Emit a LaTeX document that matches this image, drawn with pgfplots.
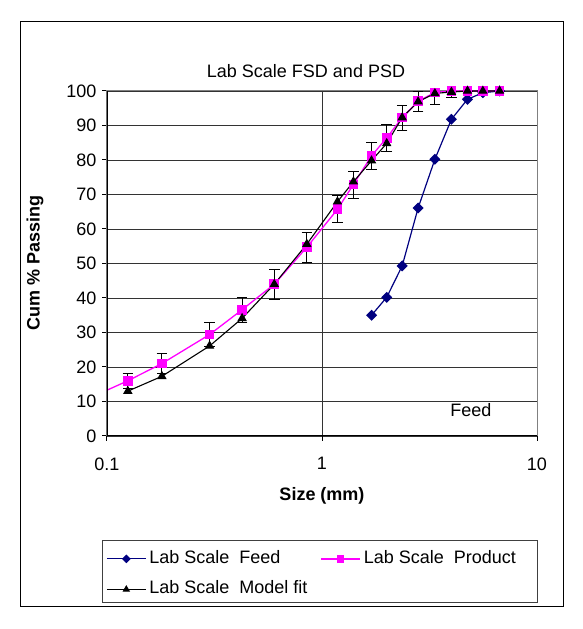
\documentclass[border=0pt]{standalone}
\usepackage{fontspec}
\setmainfont{Liberation Sans}
\usepackage{pgfplots}
\usepackage{pgfplotstable}
\pgfplotsset{compat=1.18}
\definecolor{feedblue}{HTML}{000080}
\definecolor{prodmag}{HTML}{FF00FF}
\newcommand\fs{\fontsize{18}{21.6}\selectfont}

\pgfplotstableread{
x y
1.7 35.0
2.0 40.2
2.36 49.3
2.8 66.1
3.35 80.2
4.0 91.8
4.75 97.6
5.6 99.5
6.7 100
}\feed

\pgfplotstableread{
x y ep em
0.09 12.0 0 0
0.125 16.0 2.1 2.1
0.18 21.0 2.9 2.9
0.3 29.4 3.5 3.5
0.425 36.6 3.7 3.7
0.6 44.0 4.3 4.3
0.85 54.7 4.3 4.3
1.18 65.7 3.9 3.9
1.4 72.9 3.9 3.9
1.7 81.2 3.9 3.9
2.0 86.4 3.8 3.8
2.36 92.3 3.6 3.6
2.8 97.0 2.9 2.9
3.35 99.6 0.4 3.4
4.0 100 0 1.8
4.75 100 0 0
5.6 100 0 0
6.7 100 0 0
}\prod

\pgfplotstableread{
x y
0.125 13.0
0.18 17.3
0.3 26.1
0.425 34.1
0.6 44.0
0.85 55.6
1.18 67.9
1.4 73.7
1.7 79.8
2.0 84.8
2.36 92.3
2.8 96.9
3.35 99.3
4.0 99.7
4.75 100
5.6 100
6.7 100
}\model

\begin{document}
\begin{tikzpicture}[x=1pt,y=1pt]
\useasboundingbox (0,0) rectangle (583,629);
\draw[black, line width=1pt] (20,22) rectangle (563,607);
\draw[black!75, line width=1pt] (102.7,88.3) rectangle (537.3,26.3);
\begin{axis}[
  at={(107pt,193pt)}, anchor=south west,
  scale only axis, width=430pt, height=345pt,
  xmode=log, xmin=0.1, xmax=10, ymin=0, ymax=100,
  xtick={0.1,1,10}, xticklabels={0.1,1,10}, xminorticks=false,
  ytick={0,10,...,100},
  /pgf/number format/assume math mode=true,
  ticklabel style={font=\fs},
  tick align=outside, xtick pos=bottom, ytick pos=left,
  major tick length=5pt, tick style={black, line width=1pt},
  xmajorgrids, ymajorgrids,
  major grid style={black!80, line width=0.9pt},
  axis line style={draw=black!50, line width=1pt},
  xticklabel style={yshift=-13pt},
  yticklabel style={xshift=-2pt},
  legend columns=2,
  legend cell align=left,
  legend style={at={(axis description cs:-0.0023,-0.3252)}, anchor=north west,
    draw=none, fill=none, inner sep=0pt, font=\fs, row sep=9.6pt,
    column sep=1pt,
    nodes={inner sep=2pt, text height=13pt, text depth=4pt},
    /tikz/column 2/.style={column sep=11pt}},
  legend image code/.code={\draw[mark repeat=2,mark phase=2,/tikz/every mark/.append style={scale=0.75}] plot coordinates {(0pt,0pt) (19.5pt,0pt) (39pt,0pt)};},
  error bars/error bar style={black, line width=0.8pt},
  error bars/error mark options={black, rotate=90, mark size=5.3pt, line width=0.8pt},
]
\addplot[feedblue, line width=1.2pt, mark=square*, mark size=3.3pt, mark options={rotate=45, fill=feedblue}] table[x=x,y=y] {\feed};
\addlegendentry{Lab Scale\ \ Feed}
\addplot[prodmag, line width=1.3pt, mark=square*, mark size=4.2pt, mark options={fill=prodmag},
  error bars/.cd, y dir=both, y explicit] table[x=x,y=y,y error plus=ep,y error minus=em] {\prod};
\addlegendentry{Lab Scale\ \ Product}
\addplot[black, line width=1.1pt, mark=triangle*, mark size=4.4pt, mark options={fill=black}] table[x=x,y=y] {\model};
\addlegendentry{Lab Scale\ \ Model fit}
\draw[black, line width=2pt] (rel axis cs:0,1) -- (rel axis cs:0,0) -- (rel axis cs:1,0);
\node[font=\fs] at (axis cs:4.93,7.5) {Feed};
\end{axis}
\node[font=\fs] at (306,558) {Lab Scale FSD and PSD};
\node[font=\fs\bfseries, rotate=90] at (35,366) {Cum \% Passing};
\node[font=\fs\bfseries] at (322,133) {Size (mm)};
\end{tikzpicture}
\end{document}
